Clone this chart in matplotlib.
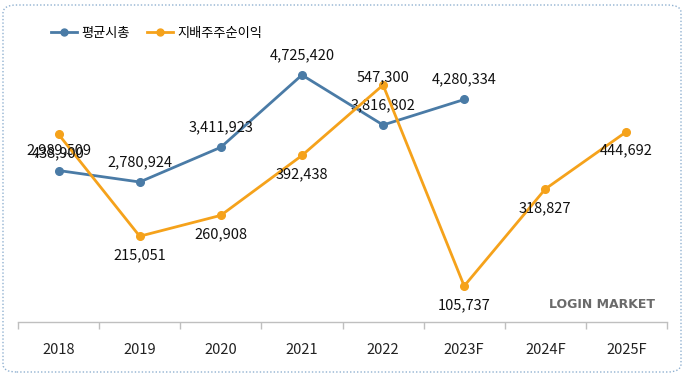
import matplotlib
matplotlib.use("Agg")
import matplotlib.pyplot as plt
from matplotlib.patches import FancyBboxPatch
from matplotlib.lines import Line2D

plt.rcParams['font.family'] = ['Noto Sans CJK KR', 'DejaVu Sans']

categories = ["2018", "2019", "2020", "2021", "2022", "2023F", "2024F", "2025F"]
market_cap = [2989509, 2780924, 3411923, 4725420, 3816802, 4280334]
net_income = [438900, 215051, 260908, 392438, 547300, 105737, 318827, 444692]
series_names = ["평균시총", "지배주주순이익"]

blue = "#4a7ba6"
orange = "#f5a21b"

W, H = 686, 375
fig = plt.figure(figsize=(W / 100, H / 100), dpi=100)

# rounded dotted border
border = FancyBboxPatch((3 / W, 3 / H), (W - 8) / W, (H - 8) / H,
                        boxstyle="round,pad=0,rounding_size=0.02",
                        transform=fig.transFigure, fill=False,
                        edgecolor="#8fb0d0", linestyle=(0, (1, 1.5)), linewidth=1)
fig.patches.append(border)

left, right, bottom, top = 18 / W, 667 / W, (H - 322) / H, (H - 20) / H
ax = fig.add_axes([left, bottom, right - left, top - bottom])
ax2 = ax.twinx()

x = list(range(len(categories)))
ax.set_xlim(-0.5, len(categories) - 0.5)
ax.set_ylim(236700, 5725000)
ax2.set_ylim(26640, 690100)

ax.plot(x[:len(market_cap)], market_cap, color=blue, lw=2, marker="o", ms=5.5, zorder=3)
ax2.plot(x, net_income, color=orange, lw=2, marker="o", ms=5.5, zorder=3)

for a in (ax, ax2):
    a.set_yticks([])
    for s in ("left", "right", "top", "bottom"):
        a.spines[s].set_visible(False)
ax.spines["bottom"].set_visible(True)
ax.spines["bottom"].set_color("#bfbfbf")
ax.spines["bottom"].set_linewidth(1)

ax.set_xticks([i - 0.5 for i in range(len(categories) + 1)])
ax.set_xticklabels([])
ax.tick_params(axis="x", length=5, color="#bfbfbf", width=1)
for i, c in enumerate(categories):
    ax.text(i, -0.093, c, transform=ax.get_xaxis_transform(), ha="center", va="center",
            fontsize=10.5, color="#222222")

fs = 10.5
for i, v in enumerate(market_cap):
    ax.annotate(f"{v:,}", (i, v), xytext=(0, 14.5), textcoords="offset points",
                ha="center", va="center", fontsize=fs, color="#111111", zorder=5)
below = [True, True, True, True, False, True, True, True]
for i, v in enumerate(net_income):
    off = -13.7 if below[i] else 5.5
    ax2.annotate(f"{v:,}", (i, v), xytext=(0, off), textcoords="offset points",
                 ha="center", va="center", fontsize=fs, color="#111111", zorder=5)

handles = [Line2D([], [], color=blue, lw=2, marker="o", ms=5),
           Line2D([], [], color=orange, lw=2, marker="o", ms=5)]
fig.legend(handles, series_names, loc="center left", bbox_to_anchor=(39 / W, 1 - 33 / H),
           ncol=2, frameon=False, fontsize=9.5, handlelength=2.0, columnspacing=1.3,
           handletextpad=0.3)

fig.text(655 / W, 1 - 304 / H, "LOGIN MARKET", ha="right", va="center", fontsize=9,
         fontweight="bold", color="#6a6a6a", family=["DejaVu Sans"])

fig.savefig("out.png", dpi=100)
